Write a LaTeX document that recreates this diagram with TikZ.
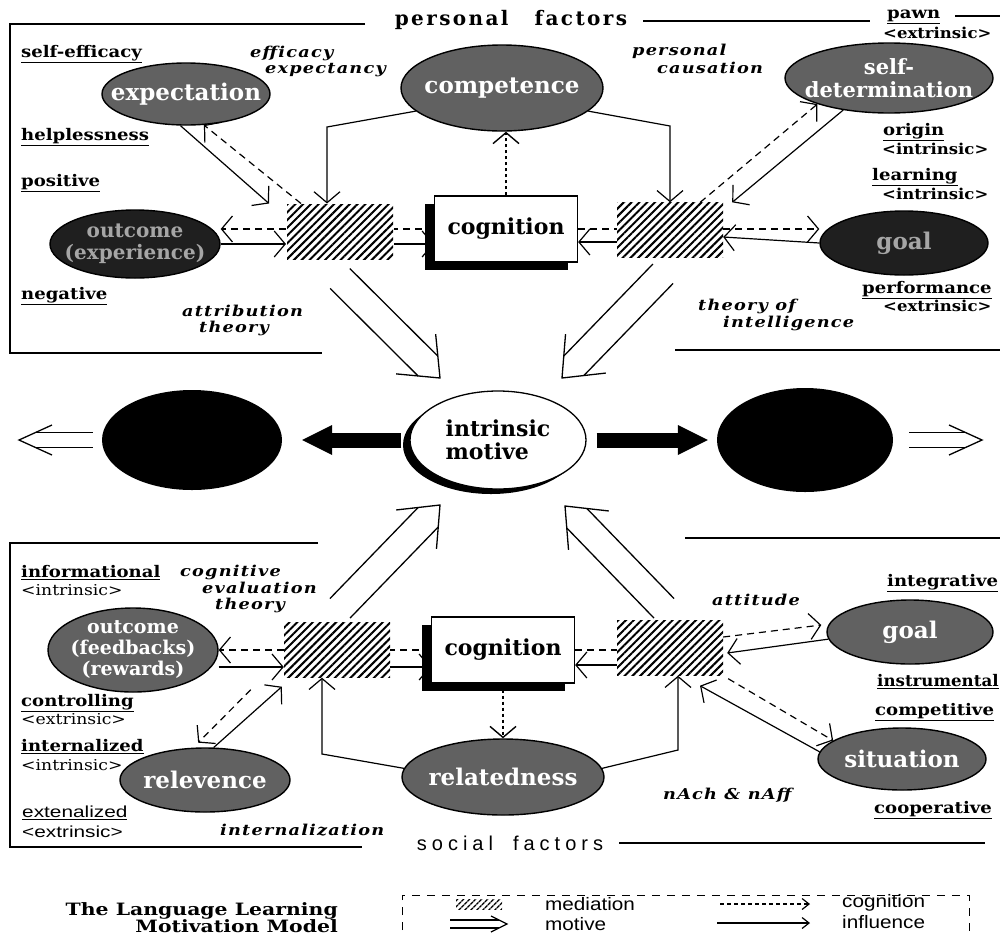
\documentclass[tikz,border=0pt]{standalone}
\usepackage{fontspec}
\setmainfont{DejaVu Serif}
\setsansfont{Liberation Sans}
\usepackage{tikz}
\usetikzlibrary{arrows.meta, calc, shapes.geometric, shadows, patterns.meta}

\newcommand{\hollowarrow}[4]{%
  \coordinate (ha-e) at ($(#2)!#4/2!(#1)$);
  \coordinate (ha-b) at ($(#2)!#4!(#1)$);
  \draw[motive] ($(#1)!#3!90:(#2)$) -- ($(ha-e)!#3!-90:(#1)$);
  \draw[motive] ($(#1)!#3!-90:(#2)$) -- ($(ha-e)!#3!90:(#1)$);
  \draw[motive] ($(ha-b)!2*#3!-90:(#1)$) -- (#2) -- ($(ha-b)!2*#3!90:(#1)$);
}

\begin{document}
\begin{tikzpicture}[x=1pt, y=-1pt]
\tikzstyle{factor}=[ellipse, draw, line width=1.4pt, fill=black!62, text=white, inner sep=-30pt, align=center, font=\bfseries\fontsize{23}{24}\selectfont]
\tikzstyle{darkfactor}=[factor, fill=black!88, text=black!35]
\tikzstyle{mediation}=[rectangle, minimum width=106pt, minimum height=55pt, preaction={fill=white}, pattern={Lines[angle=45, distance=5.5pt, line width=2pt]}]
\tikzstyle{cogbox}=[rectangle, draw, line width=1.2pt, fill=white, minimum width=143pt, minimum height=66pt, font=\bfseries\fontsize{22}{24}\selectfont, drop shadow={shadow xshift=-10pt, shadow yshift=-8pt, fill=black, opacity=1}]
\tikzstyle{motivenode}=[ellipse, draw, line width=1.3pt, fill=white, minimum width=176pt, minimum height=98pt, inner sep=-30pt, align=left, font=\bfseries\fontsize{22}{23}\selectfont, drop shadow={shadow xshift=-7pt, shadow yshift=-5pt, fill=black, opacity=1}]
\tikzstyle{blackball}=[ellipse, fill=black, inner sep=0pt]
\tikzstyle{ulabel}=[anchor=west, inner sep=0pt, font=\bfseries\fontsize{16}{17}\selectfont\addfontfeature{FakeStretch=1.13}]
\tikzstyle{tagtext}=[anchor=west, inner sep=0pt, font=\bfseries\fontsize{15}{16}\selectfont\addfontfeature{FakeStretch=1.1}]
\tikzstyle{plaintag}=[anchor=west, inner sep=0pt, font=\fontsize{15}{16}\selectfont\addfontfeature{FakeStretch=1.15}]
\tikzstyle{itlabel}=[anchor=west, inner sep=0pt, font=\bfseries\itshape\fontsize{15}{16}\selectfont\addfontfeature{LetterSpace=8, FakeStretch=1.18}]
\tikzstyle{sanslabel}=[anchor=west, inner sep=0pt, font=\sffamily\fontsize{16}{17}\selectfont\addfontfeature{FakeStretch=1.3}]
\tikzstyle{headtext}=[inner sep=0pt, font=\bfseries\fontsize{20}{21}\selectfont\addfontfeature{LetterSpace=12}]
\tikzstyle{legtext}=[anchor=west, inner sep=0pt, font=\sffamily\fontsize{18}{19}\selectfont\addfontfeature{FakeStretch=1.15}]
\tikzstyle{factorframe}=[line width=1.2pt]
\tikzstyle{influence}=[line width=1.2pt, -{Straight Barb[length=11pt, width=26pt]}]
\tikzstyle{cognition}=[line width=1.2pt, dash pattern=on 7pt off 5pt, -{Straight Barb[length=11pt, width=26pt]}]
\tikzstyle{cogline}=[line width=1.2pt, dash pattern=on 7pt off 5pt]
\tikzstyle{cogdot}=[line width=1.4pt, dash pattern=on 3pt off 3pt, -{Straight Barb[length=11pt, width=26pt]}]
\tikzstyle{motive}=[line width=1.3pt]
\tikzstyle{drive}=[line width=15pt, -{Triangle[length=30pt, width=30pt, line width=0pt]}]

\useasboundingbox (0,0) rectangle (1000,935);

\draw[factorframe] (365,24) -- (10,24) -- (10,353) -- (322,353);
\draw[factorframe] (643,21) -- (870,21);
\draw[factorframe] (955,16) -- (1000,16);
\draw[factorframe] (675,350) -- (1000,350);
\draw[factorframe] (318,543) -- (10,543) -- (10,847) -- (362,847);
\draw[factorframe] (685,538) -- (1000,538);
\draw[factorframe] (619,843) -- (985,843);

\node[headtext] (pf) at (511,20) {personal\hspace{26pt}factors};
\node[headtext, font=\sffamily\fontsize{20}{21}\selectfont\addfontfeature{LetterSpace=25}] (sf) at (510,843) {social\hspace{20pt}factors};

\node[ulabel] (selfeff) at (21,54) {\underline{self-efficacy}};
\node[ulabel] (helpl) at (21,137) {\underline{helplessness}};
\node[ulabel] (posit) at (21,183) {\underline{positive}};
\node[ulabel] (negat) at (21,296) {\underline{negative}};
\node[ulabel] (pawn) at (887,17) {\underline{pawn}};
\node[tagtext] (pawnx) at (883,33) {<extrinsic>};
\node[ulabel] (origin) at (883,132) {\underline{origin}};
\node[tagtext] (originx) at (882,149) {<intrinsic>};
\node[ulabel] (learn) at (872,177) {\underline{learning}};
\node[tagtext] (learnx) at (882,194) {<intrinsic>};
\node[ulabel] (perf) at (862,290) {\underline{performance}};
\node[tagtext] (perfx) at (883,306) {<extrinsic>};

\node[itlabel] (effic) at (250,53) {efficacy};
\node[itlabel] (expy) at (265,70) {expectancy};
\node[itlabel] (attr) at (182,311) {attribution};
\node[itlabel] (attrth) at (199,328) {theory};
\node[itlabel] (pers) at (632,51) {personal};
\node[itlabel] (caus) at (657,68) {causation};
\node[itlabel] (theo) at (698,306) {theory of};
\node[itlabel] (intel) at (723,323) {intelligence};

\node[ulabel] (inform) at (21,573) {\underline{informational}};
\node[plaintag] (informx) at (21,590) {<intrinsic>};
\node[itlabel] (cogn) at (180,572) {cognitive};
\node[itlabel] (evalu) at (202,588) {evaluation};
\node[itlabel] (evth) at (215,605) {theory};
\node[ulabel] (contr) at (21,703) {\underline{controlling}};
\node[plaintag] (contrx) at (21,719) {<extrinsic>};
\node[ulabel] (intern) at (21,747) {\underline{internalized}};
\node[plaintag] (internx) at (21,765) {<intrinsic>};
\node[sanslabel] (exten) at (22,813) {\underline{extenalized}};
\node[sanslabel] (extenx) at (22,832) {<extrinsic>};
\node[itlabel] (intz) at (220,830) {internalization};
\node[itlabel] (attit) at (712,600) {attitude};
\node[itlabel] (nach) at (663,795) {nAch \& nAff};
\node[ulabel] (integ) at (887,583) {\underline{integrative}};
\node[ulabel, font=\bfseries\fontsize{16}{17}\selectfont\addfontfeature{FakeStretch=1.04}] (instr) at (877,682) {\underline{instrumental}};
\node[ulabel] (compt) at (875,712) {\underline{competitive}};
\node[ulabel] (coop) at (874,810) {\underline{cooperative}};

\node[factor, minimum width=168pt, minimum height=62pt] (ex) at (186,94) {expectation};
\node[factor, minimum width=202pt, minimum height=86pt] (comp) at (502,88) {competence};
\node[factor, minimum width=208pt, minimum height=70pt, font=\bfseries\fontsize{21}{23}\selectfont] (sd) at (889,78) {self-\\determination};
\node[darkfactor, minimum width=170pt, minimum height=68pt, font=\bfseries\fontsize{20}{22}\selectfont] (oe) at (135,244) {outcome\\(experience)};
\node[darkfactor, minimum width=168pt, minimum height=64pt] (gt) at (904,243) {goal};
\node[mediation] (hl1) at (340,232) {};
\node[mediation] (hr1) at (670,230) {};
\node[cogbox] (cg1) at (506,229) {cognition};

\node[motivenode] (im) at (498,440) {intrinsic\\motive};
\node[blackball, minimum width=180pt, minimum height=100pt] (bl) at (192,440) {};
\node[blackball, minimum width=176pt, minimum height=104pt] (br) at (805,440) {};

\node[factor, minimum width=170pt, minimum height=84pt, font=\bfseries\fontsize{19}{21}\selectfont] (of) at (133,650) {outcome\\(feedbacks)\\(rewards)};
\node[factor, minimum width=170pt, minimum height=64pt] (rv) at (205,780) {relevence};
\node[factor, minimum width=202pt, minimum height=76pt] (rl) at (503,777) {relatedness};
\node[factor, minimum width=166pt, minimum height=64pt] (gb) at (910,632) {goal};
\node[factor, minimum width=168pt, minimum height=62pt] (st) at (902,759) {situation};
\node[mediation] (hl2) at (337,650) {};
\node[mediation] (hr2) at (670,648) {};
\node[cogbox] (cg2) at (503,650) {cognition};

\coordinate (ckl) at (327,127);
\coordinate (ckr) at (670,126);
\draw[influence] (ex.-100) -- ($(hl1.north west)+(-17,0)$);
\draw[cognition] ($(hl1.north west)+(15,0)$) -- (ex.-60);
\draw[influence] (comp.-165) -- (ckl) -- (ckl |- hl1.north);
\draw[influence] (comp.-15) -- (ckr) -- (hr1.north);
\draw[cogdot] (cg1.north) -- (cg1.north |- comp.south);
\draw[cognition] ($(hr1.north east)+(-23,0)$) -- (sd.-160);
\draw[influence] (sd.-145) -- ($(hr1.north east)+(9,0)$);
\draw[cogline] (cg1.east) -- (cg1.east -| hr1.west);
\draw[cognition] (hr1.east |- cg1.east) -- (gt.west |- cg1.east);
\draw[influence] (gt.west) -- ($(hr1.east)+(0,7)$);
\draw[influence] ($(hr1.west)+(0,12)$) -- ($(cg1.east)+(0,13)$);
\draw[cogline] (cg1.west) -- (cg1.west -| hl1.east);
\draw[cognition] (hl1.west |- cg1.west) -- (oe.east |- cg1.west);
\draw[influence] (oe.east) -- (oe.east -| hl1.west);
\draw[influence] (hl1.east |- oe.east) -- (cg1.west |- oe.east);

\coordinate (mtls) at ($(hl1.south)+(0,18)$);
\coordinate (mtlt) at (440,378);
\coordinate (mtrs) at ($(hr1.south)+(-7,16)$);
\coordinate (mtrt) at (562,378);
\coordinate (mbls) at ($(hl2.north)+(3,-14)$);
\coordinate (mblt) at (440,505);
\coordinate (mbrs) at ($(hr2.north)+(-6,-12)$);
\coordinate (mbrt) at (565,506);
\hollowarrow{mtls}{mtlt}{14pt}{34pt}
\hollowarrow{mtrs}{mtrt}{14pt}{34pt}
\hollowarrow{mbls}{mblt}{14pt}{34pt}
\hollowarrow{mbrs}{mbrt}{14pt}{34pt}

\draw[drive] ($(im.west)+(-8,0)$) -- ($(bl.east)+(20,0)$);
\draw[drive] ($(im.east)+(10,0)$) -- ($(br.west)+(-9,0)$);
\coordinate (hls) at ($(bl.west)+(-9,0)$);
\coordinate (hlt) at (19,440);
\coordinate (hrs) at ($(br.east)+(16,0)$);
\coordinate (hrt) at (982,440);
\hollowarrow{hls}{hlt}{7.5pt}{33pt}
\hollowarrow{hrs}{hrt}{7.5pt}{33pt}

\coordinate (rkl) at (322,754);
\coordinate (rkr) at (678,750);
\draw[cogline] (cg2.west) -- (cg2.west -| hl2.east);
\draw[cognition] (hl2.west |- cg2.west) -- (of.east |- cg2.west);
\draw[influence] ($(of.east)+(0,17)$) -- ($(hl2.west)+(0,17)$);
\draw[influence] ($(hl2.east)+(0,17)$) -- ($(cg2.west)+(0,17)$);
\draw[influence] (rv.75) -- ($(hl2.south west)+(-2,9)$);
\draw[cognition, shorten >=7pt] ($(hl2.south west)+(-33,12)$) -- (rv.110);
\draw[influence] (rl.175) -- (rkl) -- (rkl |- hl2.south);
\draw[influence] (rl.5) -- (rkr) -- (rkr |- hr2.south);
\draw[cogdot] (cg2.south) -- (cg2.south |- rl.north);
\draw[influence] ($(hr2.west)+(0,17)$) -- ($(cg2.east)+(0,15)$);
\draw[cogline] (cg2.east) -- (cg2.east -| hr2.west);
\draw[cognition] ($(hr2.east)+(0,-11)$) -- ($(gb.west)+(-5,-7)$);
\draw[influence] (gb.-175) -- ($(hr2.east)+(4,5)$);
\draw[cognition] ($(hr2.south east)+(5,3)$) -- (st.165);
\draw[influence] (st.175) -- ($(hr2.south)+(30,10)$);

\node[inner sep=0pt, anchor=east, align=right, font=\bfseries\fontsize{17}{17}\selectfont\addfontfeature{FakeStretch=1.2}] (ttl) at (338,918) {The Language Learning\\Motivation Model};
\draw[cogline, dash pattern=on 8pt off 7pt, line width=1pt] (402,960) -- (402,895) -- (969,895) -- (969,960);
\node[mediation, minimum width=46pt, minimum height=10pt, pattern={Lines[angle=45, distance=4pt, line width=1.5pt]}] (lgm) at (479,904) {};
\node[legtext] (lmed) at (545,904) {mediation};
\coordinate (lmoa) at (450,924);
\coordinate (lmob) at (507,924);
\hollowarrow{lmoa}{lmob}{4pt}{16pt}
\node[legtext] (lmot) at (545,924) {motive};
\coordinate (lcga) at (720,904);
\coordinate (lcgb) at (810,904);
\draw[cognition, dash pattern=on 4pt off 3pt, -{Straight Barb[length=7pt, width=11pt]}] (lcga) -- (lcgb);
\node[legtext] (lcog) at (842,903) {cognition};
\coordinate (lina) at (717,923);
\coordinate (linb) at (810,923);
\draw[influence, -{Straight Barb[length=7pt, width=11pt]}] (lina) -- (linb);
\node[legtext] (linf) at (842,922) {influence};

\end{tikzpicture}
\end{document}
